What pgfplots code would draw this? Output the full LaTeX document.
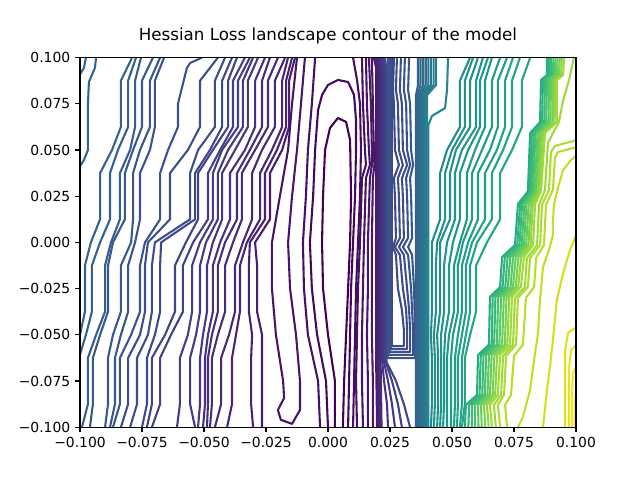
\documentclass[border=0pt]{standalone}
\usepackage{fontspec}
\setmainfont{DejaVu Sans}
\usepackage{pgfplots}
\usepackage{pgfplotstable}
\pgfplotsset{compat=1.18}
\definecolor{v00}{HTML}{440154}\definecolor{v02}{HTML}{46085C}\definecolor{v03}{HTML}{470D60}
\definecolor{v04}{HTML}{471063}\definecolor{v05}{HTML}{481467}\definecolor{v06}{HTML}{481769}
\definecolor{v07}{HTML}{481B6D}\definecolor{v08}{HTML}{481D6F}\definecolor{v09}{HTML}{482173}
\definecolor{v10}{HTML}{482576}\definecolor{v11}{HTML}{482878}\definecolor{v12}{HTML}{472C7A}
\definecolor{v13}{HTML}{472E7C}\definecolor{v14}{HTML}{46327E}\definecolor{v15}{HTML}{463480}
\definecolor{v16}{HTML}{453882}\definecolor{v17}{HTML}{443A83}\definecolor{v18}{HTML}{433E85}
\definecolor{v19}{HTML}{424086}\definecolor{v20}{HTML}{414487}\definecolor{v21}{HTML}{3F4788}
\definecolor{v22}{HTML}{3E4989}\definecolor{v23}{HTML}{3D4D8A}\definecolor{v24}{HTML}{3C4F8A}
\definecolor{v25}{HTML}{3B528B}\definecolor{v26}{HTML}{3A548C}\definecolor{v27}{HTML}{38588C}
\definecolor{v28}{HTML}{375A8C}\definecolor{v29}{HTML}{365D8D}\definecolor{v30}{HTML}{34608D}
\definecolor{v31}{HTML}{33628D}\definecolor{v32}{HTML}{32658E}\definecolor{v33}{HTML}{31678E}
\definecolor{v34}{HTML}{306A8E}\definecolor{v36}{HTML}{2E6F8E}\definecolor{v38}{HTML}{2C738E}
\definecolor{v40}{HTML}{2A788E}\definecolor{v42}{HTML}{287D8E}\definecolor{v44}{HTML}{26828E}
\definecolor{v46}{HTML}{24868E}\definecolor{v48}{HTML}{228B8D}\definecolor{v50}{HTML}{21918C}
\definecolor{v51}{HTML}{20928C}\definecolor{v52}{HTML}{1F958B}\definecolor{v53}{HTML}{1F978B}
\definecolor{v54}{HTML}{1F9A8A}\definecolor{v55}{HTML}{1E9C89}\definecolor{v56}{HTML}{1F9F88}
\definecolor{v57}{HTML}{1FA188}\definecolor{v58}{HTML}{20A386}\definecolor{v59}{HTML}{21A585}
\definecolor{v62}{HTML}{26AD81}\definecolor{v65}{HTML}{2FB47C}\definecolor{v68}{HTML}{3ABA76}
\definecolor{v71}{HTML}{48C16E}\definecolor{v74}{HTML}{58C765}\definecolor{v77}{HTML}{67CC5C}
\definecolor{v80}{HTML}{7AD151}\definecolor{v83}{HTML}{8ED645}\definecolor{v86}{HTML}{A0DA39}
\definecolor{v88}{HTML}{ADDC30}\definecolor{v89}{HTML}{B5DE2B}\definecolor{v91}{HTML}{C2DF23}
\definecolor{v93}{HTML}{D0E11C}\definecolor{v95}{HTML}{DDE318}\definecolor{v97}{HTML}{EAE51A}
\definecolor{v98}{HTML}{F4E61E}\definecolor{v100}{HTML}{FDE725}

\pgfplotstableread{
y r20 r19 r18 r17 r16 r15 r13 r12 r11 r10 r9 r8 r7 r6 r5 r4 r3 ra rb rc rd
0.1 -0.0790 -0.0774 -0.0754 -0.0706 -0.0677 -0.0661 -0.0444 -0.0415 -0.0387 -0.0367 -0.0335 -0.0315 -0.0302 -0.0282 -0.0254 -0.0234 -0.0202 -0.0173 -0.0161 -0.0145 -0.0133
0.0875 -0.0835 -0.0806 -0.0778 -0.0750 -0.0718 -0.0698 -0.0516 -0.0456 -0.0427 -0.0403 -0.0383 -0.0363 -0.0343 -0.0323 -0.0294 -0.0266 -0.0242 -0.0214 -0.0185 -0.0169 -0.0157
0.075 -0.0835 -0.0806 -0.0778 -0.0750 -0.0718 -0.0698 -0.0516 -0.0456 -0.0427 -0.0403 -0.0383 -0.0363 -0.0343 -0.0323 -0.0294 -0.0266 -0.0242 -0.0214 -0.0185 -0.0169 -0.0157
0.0625 -0.0835 -0.0806 -0.0778 -0.0750 -0.0718 -0.0698 -0.0516 -0.0456 -0.0427 -0.0403 -0.0383 -0.0363 -0.0343 -0.0323 -0.0294 -0.0266 -0.0242 -0.0214 -0.0185 -0.0169 -0.0157
0.05 -0.0871 -0.0847 -0.0798 -0.0786 -0.0758 -0.0718 -0.0565 -0.0524 -0.0476 -0.0464 -0.0435 -0.0427 -0.0403 -0.0375 -0.0335 -0.0315 -0.0294 -0.0266 -0.0226 -0.0206 -0.0185
0.0375 -0.0919 -0.0879 -0.0839 -0.0819 -0.0786 -0.0758 -0.0637 -0.0556 -0.0536 -0.0524 -0.0484 -0.0464 -0.0444 -0.0427 -0.0395 -0.0367 -0.0347 -0.0306 -0.0274 -0.0254 -0.0234
0.025 -0.0919 -0.0879 -0.0839 -0.0819 -0.0786 -0.0758 -0.0637 -0.0556 -0.0536 -0.0524 -0.0484 -0.0464 -0.0444 -0.0427 -0.0395 -0.0367 -0.0347 -0.0306 -0.0274 -0.0254 -0.0234
0.0125 -0.0919 -0.0879 -0.0839 -0.0819 -0.0786 -0.0758 -0.0637 -0.0556 -0.0536 -0.0524 -0.0484 -0.0464 -0.0444 -0.0427 -0.0395 -0.0367 -0.0347 -0.0306 -0.0274 -0.0254 -0.0234
0 -0.0956 -0.0919 -0.0875 -0.0867 -0.0794 -0.0778 -0.0726 -0.0698 -0.0673 -0.0573 -0.0544 -0.0516 -0.0492 -0.0464 -0.0435 -0.0415 -0.0383 -0.0343 -0.0327 -0.0315 -0.0294
-0.0125 -0.0980 -0.0952 -0.0899 -0.0887 -0.0835 -0.0806 -0.0738 -0.0710 -0.0677 -0.0617 -0.0585 -0.0548 -0.0516 -0.0488 -0.0464 -0.0444 -0.0415 -0.0375 -0.0355 -0.0319 -0.0286
-0.025 -0.0980 -0.0952 -0.0899 -0.0887 -0.0835 -0.0806 -0.0738 -0.0710 -0.0677 -0.0617 -0.0585 -0.0548 -0.0516 -0.0488 -0.0464 -0.0444 -0.0415 -0.0375 -0.0355 -0.0319 -0.0286
-0.0375 -0.0980 -0.0952 -0.0899 -0.0887 -0.0835 -0.0806 -0.0738 -0.0710 -0.0677 -0.0617 -0.0585 -0.0548 -0.0516 -0.0488 -0.0464 -0.0444 -0.0415 -0.0375 -0.0355 -0.0319 -0.0286
-0.05 -0.1000 -0.0976 -0.0935 -0.0919 -0.0867 -0.0835 -0.0758 -0.0726 -0.0698 -0.0657 -0.0633 -0.0565 -0.0532 -0.0504 -0.0484 -0.0468 -0.0444 -0.0399 -0.0371 -0.0306 -0.0266
-0.0625 -0.1032 -0.1004 -0.0968 -0.0948 -0.0887 -0.0859 -0.0806 -0.0770 -0.0730 -0.0710 -0.0677 -0.0597 -0.0556 -0.0516 -0.0496 -0.0484 -0.0468 -0.0431 -0.0387 -0.0310 -0.0266
-0.075 -0.1032 -0.1004 -0.0968 -0.0948 -0.0887 -0.0859 -0.0806 -0.0770 -0.0730 -0.0710 -0.0677 -0.0597 -0.0556 -0.0516 -0.0496 -0.0484 -0.0468 -0.0431 -0.0387 -0.0310 -0.0266
-0.0875 -0.1032 -0.1004 -0.0968 -0.0948 -0.0887 -0.0859 -0.0806 -0.0770 -0.0730 -0.0710 -0.0677 -0.0597 -0.0556 -0.0516 -0.0496 -0.0484 -0.0468 -0.0431 -0.0387 -0.0310 -0.0266
-0.1 -0.1060 -0.1032 -0.0992 -0.0960 -0.0899 -0.0879 -0.0835 -0.0798 -0.0750 -0.0730 -0.0710 -0.0609 -0.0536 -0.0524 -0.0504 -0.0488 -0.0476 -0.0456 -0.0407 -0.0302 -0.0266
}\lefttab

\pgfplotstableread{
y g1 g2 g3 g4 g5 g6 g7 g8 g9 g10 g11
0.1 0.0573 0.0585 0.0605 0.0625 0.0645 0.0661 0.0694 0.0722 0.0746 0.0774 0.0815
0.0875 0.0532 0.0552 0.0573 0.0597 0.0613 0.0633 0.0661 0.0685 0.0714 0.0742 0.0782
0.075 0.0532 0.0552 0.0573 0.0597 0.0613 0.0633 0.0661 0.0685 0.0714 0.0742 0.0782
0.0625 0.0532 0.0552 0.0573 0.0597 0.0613 0.0633 0.0661 0.0685 0.0714 0.0742 0.0782
0.05 0.0480 0.0500 0.0516 0.0540 0.0565 0.0593 0.0621 0.0653 0.0681 0.0706 0.0742
0.0375 0.0452 0.0472 0.0492 0.0512 0.0532 0.0560 0.0581 0.0605 0.0633 0.0661 0.0694
0.025 0.0452 0.0472 0.0492 0.0512 0.0532 0.0560 0.0581 0.0605 0.0633 0.0661 0.0694
0.0125 0.0452 0.0472 0.0492 0.0512 0.0532 0.0560 0.0581 0.0605 0.0633 0.0661 0.0694
0 0.0419 0.0440 0.0452 0.0480 0.0504 0.0532 0.0544 0.0565 0.0581 0.0601 0.0641
-0.0125 0.0419 0.0435 0.0452 0.0468 0.0488 0.0508 0.0524 0.0540 0.0556 0.0573 0.0597
-0.025 0.0419 0.0435 0.0452 0.0468 0.0488 0.0508 0.0524 0.0540 0.0556 0.0573 0.0597
-0.0375 0.0419 0.0435 0.0452 0.0468 0.0488 0.0508 0.0524 0.0540 0.0556 0.0573 0.0597
-0.05 0.0415 0.0427 0.0440 0.0456 0.0472 0.0488 0.0504 0.0524 0.0540 0.0556 0.0573
-0.0625 0.0419 0.0431 0.0444 0.0456 0.0468 0.0480 0.0496 0.0512 0.0524 0.0540 0.0552
-0.075 0.0419 0.0431 0.0444 0.0456 0.0468 0.0480 0.0496 0.0512 0.0524 0.0540 0.0552
-0.0875 0.0419 0.0431 0.0444 0.0456 0.0468 0.0480 0.0496 0.0512 0.0524 0.0540 0.0552
-0.1 0.0415 0.0427 0.0440 0.0452 0.0464 0.0480 0.0496 0.0508 0.0520 0.0532 0.0540
}\gtab

\pgfplotstableread{
y b1 b2 b3 b4 b5 b6 b7 b8 b9
0.1 0.0883 0.0892 0.0900 0.0909 0.0917 0.0926 0.0935 0.0943 0.0952
0.0906 0.0883 0.0891 0.0899 0.0907 0.0915 0.0923 0.0931 0.0940 0.0948
0.0879 0.0859 0.0867 0.0875 0.0883 0.0891 0.0899 0.0907 0.0915 0.0923
0.0651 0.0855 0.0863 0.0872 0.0880 0.0889 0.0897 0.0906 0.0914 0.0923
0.0592 0.0815 0.0822 0.0830 0.0837 0.0845 0.0853 0.0860 0.0868 0.0875
0.0276 0.0806 0.0813 0.0819 0.0826 0.0833 0.0839 0.0846 0.0852 0.0859
0.0208 0.0766 0.0775 0.0783 0.0792 0.0800 0.0809 0.0818 0.0826 0.0835
-0.0014 0.0754 0.0763 0.0772 0.0781 0.0790 0.0799 0.0808 0.0817 0.0827
-0.0079 0.0702 0.0713 0.0724 0.0735 0.0746 0.0757 0.0768 0.0779 0.0790
-0.0241 0.0694 0.0704 0.0715 0.0725 0.0736 0.0746 0.0757 0.0767 0.0778
-0.0295 0.0653 0.0664 0.0675 0.0686 0.0698 0.0709 0.0720 0.0731 0.0742
-0.0554 0.0649 0.0660 0.0670 0.0681 0.0691 0.0702 0.0713 0.0723 0.0734
-0.0609 0.0605 0.0616 0.0627 0.0638 0.0649 0.0660 0.0671 0.0682 0.0694
-0.0825 0.0601 0.0611 0.0622 0.0632 0.0643 0.0653 0.0664 0.0674 0.0685
-0.0879 0.0556 0.0569 0.0581 0.0593 0.0605 0.0617 0.0629 0.0641 0.0653
-0.1 0.0552 0.0566 0.0580 0.0593 0.0607 0.0620 0.0634 0.0648 0.0661
}\btab

\begin{document}
\begin{tikzpicture}
\useasboundingbox (-57.6bp,-38.02bp) rectangle (403.2bp,307.58bp);
\begin{axis}[
  at={(0,0)}, anchor=south west,
  scale only axis, width=357.12bp, height=266.11bp,
  xmin=-0.1, xmax=0.1, ymin=-0.1, ymax=0.1,
  xtick={-0.1,-0.075,-0.05,-0.025,0,0.025,0.05,0.075,0.1},
  ytick={-0.1,-0.075,-0.05,-0.025,0,0.025,0.05,0.075,0.1},
  xticklabels={−0.100,−0.075,−0.050,−0.025,0.000,0.025,0.050,0.075,0.100},
  yticklabels={−0.100,−0.075,−0.050,−0.025,0.000,0.025,0.050,0.075,0.100},
  tick align=outside, tick pos=left,
  major tick length=3.5bp,
  every tick/.style={black, line width=0.8bp},
  axis line style={line width=0.8bp},
  ticklabel style={font=\fontsize{10bp}{12bp}\selectfont},
  title={Hessian Loss landscape contour of the model},
  title style={at={(0.5,1)}, anchor=base, yshift=6bp, inner sep=0pt, font=\fontsize{12bp}{14bp}\selectfont},
  axis on top,
  every axis plot/.append style={line width=1.5bp, line join=round, mark=none},
]
% left region
\addplot[v31] table[x=r20,y=y]{\lefttab};
\addplot[v30] table[x=r19,y=y]{\lefttab};
\addplot[v29] table[x=r18,y=y]{\lefttab};
\addplot[v28] table[x=r17,y=y]{\lefttab};
\addplot[v27] table[x=r16,y=y]{\lefttab};
\addplot[v26] table[x=r15,y=y]{\lefttab};
\addplot[v25] coordinates {(-0.0508,0.1)(-0.0556,0.0971)(-0.0569,0.0944)(-0.0605,0.075)(-0.0605,0.0625)(-0.0645,0.05)(-0.0677,0.0375)(-0.0677,0.0125)(-0.0738,0)(-0.0758,-0.0125)(-0.0758,-0.0375)(-0.0794,-0.05)(-0.0839,-0.0625)(-0.0839,-0.0875)(-0.0867,-0.1)};
\addplot[v24] table[x=r13,y=y]{\lefttab};
\addplot[v23] table[x=r12,y=y]{\lefttab};
\addplot[v22] table[x=r11,y=y]{\lefttab};
\addplot[v20] table[x=r10,y=y]{\lefttab};
\addplot[v19] table[x=r9,y=y]{\lefttab};
\addplot[v18] table[x=r8,y=y]{\lefttab};
\addplot[v17] table[x=r7,y=y]{\lefttab};
\addplot[v16] table[x=r6,y=y]{\lefttab};
\addplot[v14] table[x=r5,y=y]{\lefttab};
\addplot[v13] table[x=r4,y=y]{\lefttab};
\addplot[v12] table[x=r3,y=y]{\lefttab};
\addplot[v11] table[x=ra,y=y]{\lefttab};
\addplot[v10] table[x=rb,y=y]{\lefttab};
\addplot[v09] table[x=rc,y=y]{\lefttab};
\addplot[v08] table[x=rd,y=y]{\lefttab};
\addplot[v32] coordinates {(-0.0935,0.1)(-0.0940,0.0944)(-0.0964,0.0868)(-0.0968,0.075)(-0.0968,0.05)(-0.0984,0.0446)(-0.1004,0.0403)};
\addplot[v33] coordinates {(-0.0976,0.1)(-0.0984,0.0944)(-0.1004,0.0901)};
% centre
\addplot[v05] coordinates {(-0.0093,0.1)(-0.0109,0.075)(-0.0125,0.05)(-0.0145,0.025)(-0.0161,0)(-0.0153,-0.025)(-0.0129,-0.05)(-0.0113,-0.075)(-0.0113,-0.0907)(-0.0145,-0.0982)(-0.0190,-0.0960)(-0.0202,-0.0907)(-0.0177,-0.0842)(-0.0181,-0.075)(-0.0210,-0.05)(-0.0226,-0.025)(-0.0226,0)(-0.0194,0.025)(-0.0161,0.05)(-0.0145,0.075)(-0.0125,0.1)};
\addplot[v04] coordinates {(-0.0052,0.1)(-0.0065,0.075)(-0.0081,0.05)(-0.0089,0.025)(-0.0101,0)(-0.0097,-0.025)(-0.0081,-0.05)(-0.0040,-0.075)(-0.0032,-0.1)};
\addplot[v02] coordinates {(0.0000,-0.1)(-0.0008,-0.075)(-0.0044,-0.05)(-0.0065,-0.025)(-0.0073,0)(-0.0060,0.025)(-0.0052,0.05)(-0.0040,0.0716)(-0.0024,0.0798)(0.0000,0.0852)(0.0040,0.0879)(0.0081,0.0868)(0.0105,0.0798)(0.0113,0.0662)(0.0113,0.05)(0.0109,0.025)(0.0101,0)(0.0093,-0.025)(0.0089,-0.05)(0.0085,-0.075)(0.0081,-0.1)};
\addplot[v00] coordinates {(0.0028,-0.1)(0.0028,-0.075)(0.0000,-0.05)(-0.0020,-0.025)(-0.0024,0)(-0.0020,0.025)(-0.0012,0.05)(0.0008,0.0619)(0.0040,0.0673)(0.0073,0.0652)(0.0089,0.0554)(0.0093,0.025)(0.0089,0)(0.0081,-0.025)(0.0073,-0.05)(0.0065,-0.075)(0.0060,-0.1)};
\addplot[v03] coordinates {(0.0101,0.1)(0.0117,0.0879)(0.0129,0.075)(0.0133,0.05)(0.0129,0.025)(0.0121,0)(0.0113,-0.025)(0.0109,-0.05)(0.0105,-0.075)(0.0101,-0.1)};
\addplot[v04] coordinates {(0.0137,0.1)(0.0141,0.075)(0.0149,0.05)(0.0153,0.0419)(0.0137,0.0348)(0.0129,0)(0.0121,-0.025)(0.0117,-0.05)(0.0113,-0.075)(0.0117,-0.1)};
\addplot[v05] coordinates {(0.0153,0.1)(0.0157,0.075)(0.0165,0.05)(0.0169,0.0419)(0.0153,0.0348)(0.0145,0)(0.0141,-0.025)(0.0137,-0.05)(0.0137,-0.075)(0.0141,-0.1)};
\addplot[v06] coordinates {(0.0165,0.1)(0.0173,0.075)(0.0177,0.05)(0.0177,0.0419)(0.0169,0.0348)(0.0161,0)(0.0161,-0.025)(0.0157,-0.05)(0.0161,-0.075)(0.0161,-0.1)};
\addplot[v06] coordinates {(0.0177,0.1)(0.0181,0.075)(0.0185,0.05)(0.0187,0.0419)(0.0181,0.0348)(0.0177,0)(0.0177,-0.025)(0.0177,-0.05)(0.0181,-0.075)(0.0181,-0.1)};
% dark bundle
\addplot[v07] coordinates {(0.0185,0.1)(0.0194,0.0944)(0.0194,-0.0636)(0.0198,-0.1)};
\addplot[v09] coordinates {(0.0192,0.1)(0.0200,0.0944)(0.0200,-0.0636)(0.0204,-0.1)};
\addplot[v11] coordinates {(0.0198,0.1)(0.0206,0.0944)(0.0206,-0.0636)(0.0210,-0.1)};
\addplot[v13] coordinates {(0.0204,0.1)(0.0212,0.0944)(0.0212,-0.0636)(0.0216,-0.1)};
\addplot[v15] coordinates {(0.0210,0.1)(0.0218,0.0944)(0.0218,-0.0636)(0.0226,-0.075)(0.0238,-0.0875)(0.0242,-0.1)};
\addplot[v17] coordinates {(0.0216,0.1)(0.0224,0.0944)(0.0224,-0.0636)(0.0242,-0.075)(0.0258,-0.0875)(0.0270,-0.1)};
\addplot[v19] coordinates {(0.0222,0.1)(0.0230,0.0944)(0.0230,-0.0636)(0.0258,-0.075)(0.0282,-0.0875)(0.0298,-0.1)};
\addplot[v21] coordinates {(0.0228,0.1)(0.0236,0.0944)(0.0236,-0.0647)(0.0274,-0.075)(0.0306,-0.0875)(0.0331,-0.1)};
% U shapes between bundles
\addplot[v22] coordinates {(0.0266,0.1)(0.0262,0.0825)(0.0266,0.075)(0.0270,0.05)(0.0286,0.0419)(0.0266,0.0348)(0.0270,0.025)(0.0274,0.0024)(0.0262,-0.0025)(0.0274,-0.0068)(0.0282,-0.025)(0.0298,-0.0365)(0.0306,-0.0474)(0.0306,-0.0561)(0.0257,-0.0561)(0.0257,0.1)};
\addplot[v23] coordinates {(0.0278,0.1)(0.0274,0.0825)(0.0282,0.075)(0.0286,0.05)(0.0302,0.0419)(0.0282,0.0348)(0.0286,0.025)(0.0290,0.0024)(0.0270,-0.0025)(0.0290,-0.0068)(0.0302,-0.025)(0.0315,-0.0365)(0.0319,-0.0474)(0.0319,-0.0577)(0.0253,-0.0577)(0.0253,0.1)};
\addplot[v24] coordinates {(0.0294,0.1)(0.0290,0.0825)(0.0298,0.075)(0.0302,0.05)(0.0319,0.0419)(0.0298,0.0348)(0.0302,0.025)(0.0306,0.0024)(0.0286,-0.0025)(0.0306,-0.0068)(0.0319,-0.025)(0.0327,-0.0365)(0.0331,-0.0474)(0.0331,-0.0593)(0.0249,-0.0593)(0.0249,0.1)};
\addplot[v25] coordinates {(0.0310,0.1)(0.0306,0.0825)(0.0315,0.075)(0.0319,0.05)(0.0331,0.0419)(0.0315,0.0348)(0.0319,0.025)(0.0323,0.0024)(0.0302,-0.0025)(0.0323,-0.0068)(0.0335,-0.025)(0.0339,-0.0365)(0.0343,-0.0474)(0.0343,-0.0609)(0.0245,-0.0609)(0.0245,0.1)};
\addplot[v26] coordinates {(0.0327,0.1)(0.0323,0.0825)(0.0331,0.075)(0.0335,0.05)(0.0343,0.0419)(0.0331,0.0348)(0.0335,0.025)(0.0339,0.0024)(0.0323,-0.0025)(0.0339,-0.0068)(0.0347,-0.025)(0.0349,-0.0365)(0.0351,-0.0474)(0.0351,-0.0626)(0.0241,-0.0626)(0.0241,0.1)};
% teal bundle
\addplot[v30] coordinates {(0.0363,0.1)(0.0363,0.0852)(0.0355,0.0798)(0.0355,-0.1)};
\addplot[v32] coordinates {(0.0373,0.1)(0.0373,0.0852)(0.0361,0.0798)(0.0361,-0.1)};
\addplot[v34] coordinates {(0.0384,0.1)(0.0384,0.0852)(0.0368,0.0798)(0.0368,-0.1)};
\addplot[v36] coordinates {(0.0394,0.1)(0.0394,0.0852)(0.0374,0.0798)(0.0374,-0.1)};
\addplot[v38] coordinates {(0.0405,0.1)(0.0405,0.0852)(0.0381,0.0798)(0.0381,-0.1)};
\addplot[v40] coordinates {(0.0415,0.1)(0.0415,0.0852)(0.0387,0.0798)(0.0387,-0.1)};
\addplot[v42] coordinates {(0.0426,0.1)(0.0426,0.0852)(0.0394,0.0798)(0.0394,-0.1)};
\addplot[v44] coordinates {(0.0436,0.1)(0.0436,0.0852)(0.0400,0.0798)(0.0400,-0.1)};
\addplot[v46] coordinates {(0.0484,0.1)(0.0480,0.0825)(0.0472,0.0727)(0.0419,0.0684)(0.0405,0.0635)(0.0405,-0.1)};
% teal-green lines
\addplot[v48] table[x=g1,y=y]{\gtab};
\addplot[v50] table[x=g2,y=y]{\gtab};
\addplot[v51] table[x=g3,y=y]{\gtab};
\addplot[v52] table[x=g4,y=y]{\gtab};
\addplot[v53] table[x=g5,y=y]{\gtab};
\addplot[v54] table[x=g6,y=y]{\gtab};
\addplot[v55] table[x=g7,y=y]{\gtab};
\addplot[v56] table[x=g8,y=y]{\gtab};
\addplot[v57] table[x=g9,y=y]{\gtab};
\addplot[v58] table[x=g10,y=y]{\gtab};
\addplot[v59] table[x=g11,y=y]{\gtab};
% green bundle
\addplot[v62] table[x=b1,y=y]{\btab};
\addplot[v65] table[x=b2,y=y]{\btab};
\addplot[v68] table[x=b3,y=y]{\btab};
\addplot[v71] table[x=b4,y=y]{\btab};
\addplot[v74] table[x=b5,y=y]{\btab};
\addplot[v77] table[x=b6,y=y]{\btab};
\addplot[v80] table[x=b7,y=y]{\btab};
\addplot[v83] table[x=b8,y=y]{\btab};
\addplot[v86] table[x=b9,y=y]{\btab};
% yellow lines
\addplot[v86] coordinates {(0.0992,0.1)(0.0972,0.0879)(0.0948,0.0768)(0.0931,0.0651)(0.0903,0.0581)(0.0887,0.0538)(0.0875,0.0284)(0.0851,0.0203)(0.0843,-0.0014)(0.0802,-0.0084)(0.0794,-0.0241)(0.0754,-0.0300)(0.0746,-0.0554)(0.0706,-0.0614)(0.0698,-0.0825)(0.0669,-0.0879)(0.0677,-0.1)};
\addplot[v88] coordinates {(0.1004,0.0554)(0.0915,0.0522)(0.0899,0.0489)(0.0891,0.0284)(0.0863,0.0203)(0.0855,-0.0014)(0.0815,-0.0084)(0.0806,-0.0241)(0.0766,-0.0300)(0.0758,-0.0554)(0.0718,-0.0614)(0.0710,-0.0825)(0.0685,-0.0879)(0.0694,-0.1)};
\addplot[v89] coordinates {(0.1004,0.0516)(0.0927,0.0489)(0.0915,0.0457)(0.0907,0.0284)(0.0879,0.0203)(0.0871,-0.0014)(0.0839,-0.0084)(0.0831,-0.0241)(0.0798,-0.0300)(0.0786,-0.0554)(0.0750,-0.0614)(0.0738,-0.0825)(0.0714,-0.0879)(0.0722,-0.1)};
\addplot[v91] coordinates {(0.1004,0.0473)(0.0980,0.0446)(0.0948,0.0392)(0.0927,0.0294)(0.0911,0.0203)(0.0907,0.0110)(0.0907,0.0040)(0.0891,-0.0041)(0.0867,-0.0133)(0.0855,-0.0311)(0.0847,-0.0490)(0.0827,-0.0674)(0.0815,-0.0798)(0.0786,-0.0944)(0.0766,-0.1)};
\addplot[v93] coordinates {(0.1004,0.0051)(0.0976,-0.0041)(0.0948,-0.0166)(0.0923,-0.0311)(0.0907,-0.0528)(0.0895,-0.0674)(0.0883,-0.0798)(0.0867,-0.1)};
\addplot[v95] coordinates {(0.1004,-0.0457)(0.0968,-0.0490)(0.0956,-0.0582)(0.0956,-0.1)};
\addplot[v97] coordinates {(0.1004,-0.0554)(0.0980,-0.0582)(0.0972,-0.0679)(0.0972,-0.1)};
\addplot[v98] coordinates {(0.1004,-0.0663)(0.0988,-0.0706)(0.0984,-0.0809)(0.0984,-0.1)};
\addplot[v100] coordinates {(0.1004,-0.0798)(0.0996,-0.0852)(0.0996,-0.1)};
\end{axis}
\end{tikzpicture}
\end{document}
